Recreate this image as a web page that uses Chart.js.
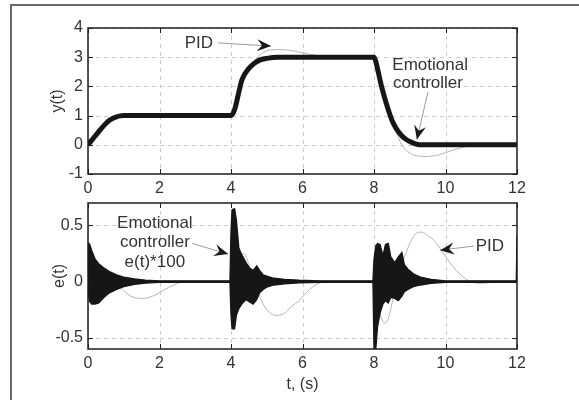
<!DOCTYPE html>
<html>
<head>
<meta charset="utf-8">
<script src="https://cdn.jsdelivr.net/npm/chart.js@4.4.1/dist/chart.umd.min.js"></script>
<style>
html, body { margin: 0; padding: 0; background: #fff; }
#wrap { position: relative; width: 579px; height: 400px; overflow: hidden; background: #fff; }
#wrap canvas { position: absolute; left: 0; top: 0; }
#frame { position: absolute; left: 10px; top: 4px; width: 620px; height: 420px;
  border-top: 2px solid #6a6a6a; border-left: 2px solid #6a6a6a; }
</style>
</head>
<body>
<div id="wrap">
  <div id="frame"></div>
  <canvas id="chartTop" width="579" height="400"></canvas>
  <canvas id="chartBot" width="579" height="400"></canvas>
</div>
<script>
// ---- data ----
// output y(t), emotional controller (thick black)
var tOut = [0, 0.1, 0.2, 0.3, 0.4, 0.5, 0.6, 0.7, 0.8, 0.9, 1.0, 1.3, 4.0, 4.1, 4.2, 4.3, 4.4, 4.5, 4.6, 4.7, 4.8, 5.0, 5.3, 8.0, 8.05, 8.1, 8.2, 8.3, 8.4, 8.5, 8.6, 8.7, 8.8, 8.9, 9.0, 9.1, 9.2, 9.3, 12];
var yEmotional = [0, 0.15, 0.3, 0.45, 0.6, 0.73, 0.84, 0.91, 0.96, 0.99, 1.0, 1.0, 1.0, 1.2, 1.7, 2.2, 2.45, 2.62, 2.74, 2.83, 2.9, 2.96, 3.0, 3.0, 2.85, 2.6, 2.05, 1.6, 1.2, 0.85, 0.6, 0.42, 0.28, 0.18, 0.11, 0.06, 0.02, 0, 0];
// output y(t), PID (thin grey)
var tPidOut = [0, 0.5, 1.0, 1.3, 1.8, 2.5, 3.0, 4.0, 4.1, 4.3, 4.5, 4.7, 4.9, 5.1, 5.4, 5.8, 6.2, 6.6, 7.0, 8.0, 8.1, 8.3, 8.5, 8.7, 8.8, 9.0, 9.2, 9.5, 9.8, 10.0, 10.3, 10.6, 11.0, 12];
var yPid = [0, 0.72, 1.0, 1.05, 1.05, 1.02, 1.0, 1.0, 1.2, 2.1, 2.6, 2.95, 3.15, 3.25, 3.26, 3.2, 3.1, 3.03, 3.0, 3.0, 2.65, 1.7, 0.8, 0.2, -0.05, -0.28, -0.38, -0.4, -0.35, -0.27, -0.15, -0.05, 0, 0];

// error e(t)*100, emotional controller: envelope of the fast oscillation
var tErr = [0, 0.05, 0.1, 0.2, 0.3, 0.45, 0.6, 0.8, 1.0, 1.3, 1.6, 2.0, 3.97, 4.0, 4.03, 4.1, 4.15, 4.22, 4.3, 4.42, 4.52, 4.62, 4.72, 4.8, 4.9, 5.0, 5.2, 5.5, 5.9, 6.5, 7.97, 8.0, 8.05, 8.1, 8.17, 8.25, 8.32, 8.4, 8.47, 8.58, 8.68, 8.78, 8.85, 8.95, 9.1, 9.3, 9.6, 10.0, 11.98, 12];
var errUpper = [0.35, 0.33, 0.28, 0.2, 0.16, 0.12, 0.09, 0.06, 0.04, 0.025, 0.014, 0.007, 0.007, 0.45, 0.64, 0.65, 0.55, 0.3, 0.24, 0.17, 0.12, 0.1, 0.14, 0.1, 0.06, 0.05, 0.03, 0.02, 0.012, 0.007, 0.007, 0.2, 0.32, 0.34, 0.33, 0.23, 0.33, 0.34, 0.22, 0.17, 0.22, 0.26, 0.15, 0.11, 0.07, 0.04, 0.02, 0.007, 0.007, 0.41];
var errLower = [-0.1, -0.18, -0.2, -0.2, -0.19, -0.14, -0.1, -0.07, -0.045, -0.025, -0.014, -0.007, -0.007, -0.3, -0.42, -0.42, -0.3, -0.24, -0.2, -0.16, -0.18, -0.2, -0.16, -0.1, -0.07, -0.05, -0.03, -0.02, -0.012, -0.007, -0.007, -0.6, -0.6, -0.4, -0.28, -0.2, -0.17, -0.19, -0.14, -0.15, -0.17, -0.13, -0.09, -0.07, -0.045, -0.03, -0.015, -0.007, -0.007, -0.007];
// error e(t), PID
var tPidErr = [0, 0.2, 0.4, 0.6, 0.8, 1.0, 1.2, 1.5, 1.8, 2.1, 2.4, 2.7, 4.0, 4.1, 4.2, 4.3, 4.4, 4.5, 4.6, 4.7, 4.8, 4.9, 5.0, 5.15, 5.3, 5.5, 5.7, 5.9, 6.2, 6.5, 7.0, 8.0, 8.1, 8.2, 8.3, 8.4, 8.5, 8.6, 8.7, 8.8, 8.9, 9.0, 9.1, 9.25, 9.35, 9.5, 9.7, 9.9, 10.1, 10.3, 10.5, 10.7, 11.0, 11.5, 12];
var ePid = [0.2, 0.18, 0.13, 0.05, -0.01, -0.08, -0.13, -0.15, -0.13, -0.08, -0.03, 0, 0, 0.15, 0.22, 0.25, 0.24, 0.15, 0.06, -0.04, -0.13, -0.2, -0.25, -0.29, -0.3, -0.28, -0.22, -0.17, -0.07, -0.01, 0, 0, -0.2, -0.32, -0.37, -0.33, -0.2, -0.05, 0.08, 0.18, 0.26, 0.34, 0.4, 0.44, 0.44, 0.41, 0.36, 0.27, 0.18, 0.1, 0.04, 0, -0.015, 0, 0];

var xTicks = [0, 2, 4, 6, 8, 10, 12];
var yTicksTop = [-1, 0, 1, 2, 3, 4];
var yTicksBot = [-0.5, 0, 0.5];

var FONT = "'Liberation Sans', Arial, Helvetica, sans-serif";
var TXT = '#333';

function pts(t, v) {
	return t.map(function(x, i){ return {x: x, y: v[i]}; });
}

// dashed grid, box round the axes and MATLAB style inward ticks
var boxTicks = {
	id: 'boxTicks',
	beforeDatasetsDraw: function(chart){
		var a = chart.chartArea, ctx = chart.ctx;
		var sx = chart.scales.x, sy = chart.scales.y;
		ctx.save();
		ctx.beginPath();
		ctx.rect(a.left, a.top, a.right - a.left, a.bottom - a.top);
		ctx.clip();
		ctx.strokeStyle = '#cdcdcd';
		ctx.lineWidth = 1;
		ctx.setLineDash([4, 4]);
		ctx.beginPath();
		sx.ticks.forEach(function(tk){
			var px = Math.round(sx.getPixelForValue(tk.value)) + 0.5;
			ctx.moveTo(px, a.top); ctx.lineTo(px, a.bottom);
		});
		sy.ticks.forEach(function(tk){
			var py = Math.round(sy.getPixelForValue(tk.value)) + 0.5;
			ctx.moveTo(a.left, py); ctx.lineTo(a.right, py);
		});
		ctx.stroke();
		ctx.restore();
	},
	afterDatasetsDraw: function(chart){
		var a = chart.chartArea, ctx = chart.ctx;
		var sx = chart.scales.x, sy = chart.scales.y;
		ctx.save();
		ctx.setLineDash([]);
		ctx.strokeStyle = '#1e1e1e';
		ctx.lineWidth = 1.5;
		ctx.beginPath();
		ctx.rect(a.left, a.top, a.right - a.left, a.bottom - a.top);
		ctx.stroke();
		ctx.lineWidth = 1;
		ctx.beginPath();
		sx.ticks.forEach(function(tk){
			var px = Math.round(sx.getPixelForValue(tk.value)) + 0.5;
			ctx.moveTo(px, a.bottom); ctx.lineTo(px, a.bottom - 5);
			ctx.moveTo(px, a.top); ctx.lineTo(px, a.top + 5);
		});
		sy.ticks.forEach(function(tk){
			var py = Math.round(sy.getPixelForValue(tk.value)) + 0.5;
			ctx.moveTo(a.left, py); ctx.lineTo(a.left + 5, py);
			ctx.moveTo(a.right, py); ctx.lineTo(a.right - 5, py);
		});
		ctx.stroke();
		ctx.restore();
	}
};

// text labels and arrows, placed in data units
var notes = {
	id: 'notes',
	afterDraw: function(chart, args, opts){
		var ctx = chart.ctx, sx = chart.scales.x, sy = chart.scales.y;
		ctx.save();
		ctx.setLineDash([]);
		ctx.font = '17px ' + FONT;
		ctx.fillStyle = TXT;
		ctx.textAlign = 'center';
		ctx.textBaseline = 'middle';
		(opts.texts || []).forEach(function(n){
			ctx.fillText(n.text, sx.getPixelForValue(n.x), sy.getPixelForValue(n.y));
		});
		(opts.arrows || []).forEach(function(r){
			var x0 = sx.getPixelForValue(r.from[0]), y0 = sy.getPixelForValue(r.from[1]);
			var x1 = sx.getPixelForValue(r.to[0]), y1 = sy.getPixelForValue(r.to[1]);
			ctx.strokeStyle = '#9a9a9a';
			ctx.lineWidth = 1;
			ctx.beginPath(); ctx.moveTo(x0, y0); ctx.lineTo(x1, y1); ctx.stroke();
			var ang = Math.atan2(y1 - y0, x1 - x0);
			ctx.save();
			ctx.translate(x1, y1); ctx.rotate(ang);
			ctx.fillStyle = '#1a1a1a';
			ctx.beginPath();
			ctx.moveTo(0, 0); ctx.lineTo(-14, -6); ctx.lineTo(-9, 0); ctx.lineTo(-14, 6);
			ctx.closePath(); ctx.fill();
			ctx.restore();
		});
		ctx.restore();
	}
};

function axes(cfg) {
	return {
		x: {
			type: 'linear', min: 0, max: 12,
			afterBuildTicks: function(s){ s.ticks = xTicks.map(function(v){ return {value: v}; }); },
			afterFit: function(s){ s.height = cfg.xHeight; },
			ticks: { font: {family: FONT, size: 16}, color: TXT, padding: 5, maxRotation: 0 },
			grid: { display: false, drawTicks: false },
			border: { display: false },
			title: { display: !!cfg.xTitle, text: cfg.xTitle || '', font: {family: FONT, size: 16}, color: TXT, padding: {top: 0, bottom: 6} }
		},
		y: {
			type: 'linear', min: cfg.yMin, max: cfg.yMax,
			afterBuildTicks: function(s){ s.ticks = cfg.yTicks.map(function(v){ return {value: v}; }); },
			afterFit: function(s){ s.width = 88; },
			ticks: { font: {family: FONT, size: 16}, color: TXT, padding: 5,
				callback: function(v){ return String(v); } },
			grid: { display: false, drawTicks: false },
			border: { display: false },
			title: { display: true, text: cfg.yTitle, font: {family: FONT, size: 16}, color: TXT, padding: {top: cfg.yTitlePad, bottom: 0} }
		}
	};
}

function baseOptions(cfg) {
	return {
		responsive: false,
		animation: false,
		events: [],
		layout: { padding: cfg.padding },
		elements: { point: { radius: 0 } },
		plugins: { legend: {display: false}, tooltip: {enabled: false}, notes: cfg.notes },
		scales: axes(cfg)
	};
}

new Chart(document.getElementById('chartTop'), {
	type: 'line',
	data: {
		datasets: [
			{ data: pts(tOut, yEmotional), borderColor: '#161616', borderWidth: 5, cubicInterpolationMode: 'monotone', fill: false },
			{ data: pts(tPidOut, yPid), borderColor: '#b4b4b4', borderWidth: 1, cubicInterpolationMode: 'monotone', fill: false }
		]
	},
	options: baseOptions({
		padding: {left: 0, right: 62, top: 28, bottom: 196},
		xHeight: 30, yMin: -1, yMax: 4, yTicks: yTicksTop, yTitle: 'y(t)', yTitlePad: 48,
		notes: {
			texts: [
				{text: 'PID', x: 3.1, y: 3.49},
				{text: 'Emotional', x: 9.57, y: 2.73},
				{text: 'controller', x: 9.51, y: 2.12}
			],
			arrows: [
				{from: [3.64, 3.49], to: [5.12, 3.38]},
				{from: [9.51, 1.81], to: [9.2, 0.18]}
			]
		}
	}),
	plugins: [boxTicks, notes]
});

new Chart(document.getElementById('chartBot'), {
	type: 'line',
	data: {
		datasets: [
			{ data: pts(tErr, errUpper), borderColor: '#161616', backgroundColor: '#161616', borderWidth: 1.3, tension: 0, fill: '+1' },
			{ data: pts(tErr, errLower), borderColor: '#161616', borderWidth: 1.3, tension: 0, fill: false },
			{ data: pts(tPidErr, ePid), borderColor: '#b4b4b4', borderWidth: 1, cubicInterpolationMode: 'monotone', fill: false }
		]
	},
	options: baseOptions({
		padding: {left: 0, right: 62, top: 203, bottom: 0},
		xHeight: 51, xTitle: 't, (s)', yMin: -0.6, yMax: 0.7, yTicks: yTicksBot, yTitle: 'e(t)', yTitlePad: 50,
		notes: {
			texts: [
				{text: 'Emotional', x: 1.87, y: 0.52},
				{text: 'controller', x: 1.87, y: 0.35},
				{text: 'e(t)*100', x: 1.87, y: 0.175},
				{text: 'PID', x: 11.24, y: 0.31}
			],
			arrows: [
				{from: [2.91, 0.34], to: [3.92, 0.245]},
				{from: [10.8, 0.317], to: [9.85, 0.28]}
			]
		}
	}),
	plugins: [boxTicks, notes]
});
</script>
</body>
</html>
